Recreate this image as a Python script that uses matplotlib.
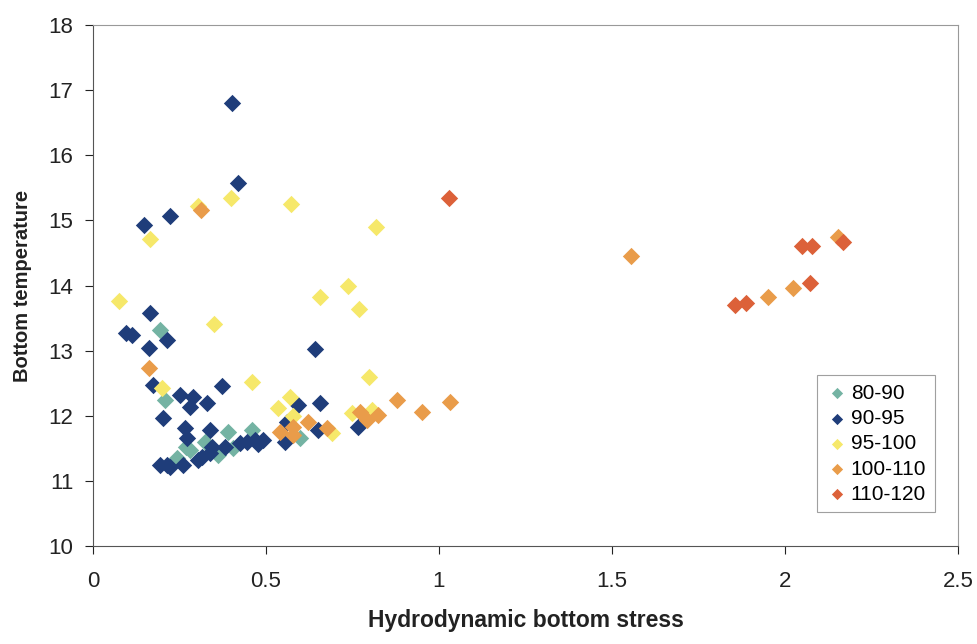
import matplotlib
matplotlib.use("Agg")
import matplotlib.pyplot as plt

plt.rcParams['font.family'] = ['Liberation Sans', 'DejaVu Sans']

# stress / temperature pairs per depth class
x_80_90 = [0.194, 0.208, 0.39, 0.46, 0.324, 0.28, 0.243, 0.361, 0.405, 0.598, 0.27]
t_80_90 = [13.32, 12.24, 11.75, 11.78, 11.60, 11.47, 11.35, 11.40, 11.50, 11.66, 11.52]

x_90_95 = [0.402, 0.147, 0.223, 0.419, 0.165, 0.095, 0.113, 0.214, 0.162, 0.173,
           0.373, 0.251, 0.289, 0.280, 0.329, 0.202, 0.266, 0.272, 0.338, 0.344,
           0.381, 0.425, 0.445, 0.468, 0.49, 0.315, 0.303, 0.194, 0.214, 0.222,
           0.26, 0.338, 0.593, 0.656, 0.561, 0.650, 0.766, 0.555, 0.642, 0.476]
t_90_95 = [16.80, 14.93, 15.07, 15.57, 13.58, 13.27, 13.24, 13.16, 13.04, 12.47,
           12.45, 12.32, 12.29, 12.14, 12.20, 11.97, 11.81, 11.66, 11.78, 11.52,
           11.52, 11.58, 11.60, 11.63, 11.62, 11.37, 11.32, 11.24, 11.24, 11.21,
           11.24, 11.43, 12.17, 12.20, 11.90, 11.78, 11.83, 11.60, 13.03, 11.56]

x_95_100 = [0.075, 0.165, 0.303, 0.399, 0.572, 0.818, 0.35, 0.656, 0.737, 0.769,
            0.46, 0.798, 0.569, 0.2, 0.535, 0.578, 0.69, 0.749, 0.806]
t_95_100 = [13.76, 14.71, 15.22, 15.35, 15.25, 14.90, 13.41, 13.83, 13.99, 13.64,
            12.52, 12.59, 12.29, 12.43, 12.12, 12.00, 11.74, 12.04, 12.09]

x_100_110 = [0.312, 0.162, 0.621, 0.54, 0.578, 0.578, 0.676, 0.772, 0.792, 0.824,
             0.879, 0.951, 1.032, 1.555, 1.951, 2.023, 2.153]
t_100_110 = [15.16, 12.73, 11.90, 11.75, 11.83, 11.70, 11.81, 12.06, 11.94, 12.01,
             12.24, 12.06, 12.21, 14.45, 13.83, 13.96, 14.75]

x_110_120 = [1.029, 1.855, 1.887, 2.072, 2.049, 2.078, 2.168]
t_110_120 = [15.35, 13.70, 13.73, 14.04, 14.61, 14.61, 14.67]

groups = ['80-90', '90-95', '95-100', '100-110', '110-120']
colors = ['#74b3a3', '#1f3d7a', '#f6e86a', '#e99c4a', '#dc6139']

fig = plt.figure(figsize=(9.77, 6.44), dpi=100)
ax = fig.add_axes([93/977, 1 - 546/644, 865/977, 521/644])

data = [(x_80_90, t_80_90), (x_90_95, t_90_95), (x_95_100, t_95_100),
        (x_100_110, t_100_110), (x_110_120, t_110_120)]
for (xs, ts), lab, c in zip(data, groups, colors):
    ax.scatter(xs, ts, marker='D', s=78, color=c, label=lab, linewidths=0)

ax.set_xlim(0, 2.5)
ax.set_ylim(10, 18)
ax.set_xticks([0, 0.5, 1, 1.5, 2, 2.5])
ax.set_xticklabels(['0', '0.5', '1', '1.5', '2', '2.5'])
ax.set_yticks(range(10, 19))
ax.tick_params(labelsize=16, colors='#222222', length=6, width=0.8, pad=8)
ax.tick_params(axis='x', pad=12)
for s in ['left', 'bottom']:
    ax.spines[s].set_color('#555555')
for s in ['top', 'right']:
    ax.spines[s].set_color('#999999')

ax.set_xlabel('Hydrodynamic bottom stress', fontsize=16.5, fontweight='bold',
              labelpad=12, color='#222222')
ax.set_ylabel('Bottom temperature', fontsize=14.5, fontweight='bold',
              labelpad=12, color='#222222')

leg = ax.legend(loc='lower right', bbox_to_anchor=(0.985, 0.045), fontsize=15,
                frameon=True, fancybox=False, edgecolor='#888888',
                handletextpad=0.1, borderpad=0.4, labelspacing=0.3,
                markerscale=0.65, handlelength=1.1)
leg.get_frame().set_linewidth(0.8)

fig.savefig('out.png', dpi=100)
